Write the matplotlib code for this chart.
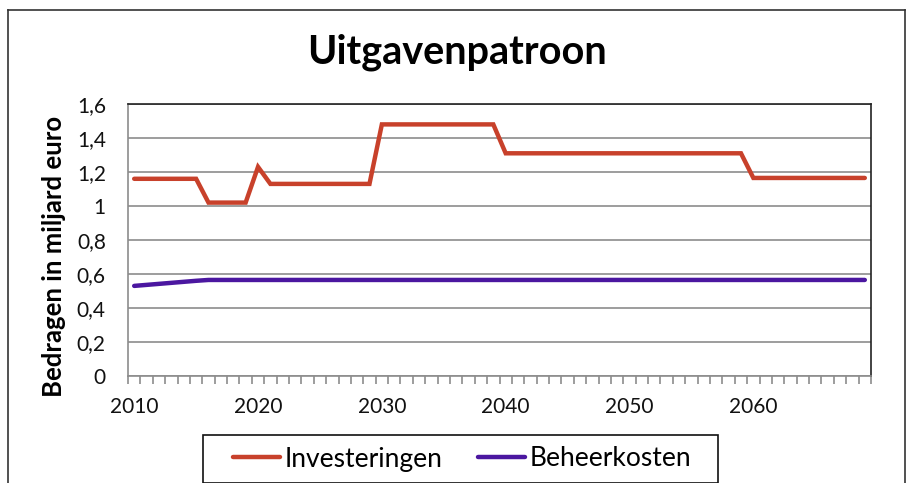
import matplotlib
matplotlib.use("Agg")
import matplotlib.pyplot as plt
from matplotlib.lines import Line2D
from matplotlib.patches import Rectangle
from matplotlib.ticker import FixedLocator, FuncFormatter

plt.rcParams['font.family'] = ['Lato', 'DejaVu Sans']

years = list(range(2010, 2070))
investeringen = ([1.16] * 6 + [1.02] * 4 + [1.23] + [1.13] * 9 + [1.48] * 10
                 + [1.31] * 20 + [1.165] * 10)
beheerkosten = [0.53, 0.536, 0.542, 0.548, 0.554, 0.56] + [0.565] * 54
yticks = [0, 0.2, 0.4, 0.6, 0.8, 1.0, 1.2, 1.4, 1.6]
xlabel_years = [2010, 2020, 2030, 2040, 2050, 2060]

W, H = 909, 483
fig = plt.figure(figsize=(W / 100, H / 100), dpi=100)
ax = fig.add_axes([128 / W, 1 - 376 / H, (871 - 128) / W, (376 - 104) / H])

x = list(range(len(years)))
ax.plot(x, investeringen, color='#C8412B', lw=3.2, solid_capstyle='round',
        solid_joinstyle='miter', label='Investeringen')
ax.plot(x, beheerkosten, color='#4B17A0', lw=3.2, solid_capstyle='round',
        label='Beheerkosten')

ax.set_xlim(-0.5, len(years) - 0.5)
ax.set_ylim(0, 1.6)
ax.set_yticks(yticks)
ax.yaxis.set_major_formatter(FuncFormatter(lambda v, p: ('%g' % round(v, 1)).replace('.', ',')))
ax.yaxis.grid(True, color='#8c8c8c', lw=1.2)
ax.set_axisbelow(True)
ax.tick_params(axis='y', length=0, labelsize=15, pad=16, colors='#111111')

ax.set_xticks([years.index(y) for y in xlabel_years])
ax.set_xticklabels([str(y) for y in xlabel_years])
ax.xaxis.set_minor_locator(FixedLocator([i - 0.5 for i in range(len(years) + 1)]))
ax.tick_params(axis='x', which='major', length=0, labelsize=15, pad=15, colors='#111111')
ax.tick_params(axis='x', which='minor', length=6, width=1.2, color='#8c8c8c', direction='out')

for s in ['left', 'bottom']:
    ax.spines[s].set_color('#8c8c8c')
    ax.spines[s].set_linewidth(1.2)
for s in ['top', 'right']:
    ax.spines[s].set_color('#222222')
    ax.spines[s].set_linewidth(1.2)

ax.set_ylabel('Bedragen in miljard euro', fontsize=18.5, fontweight='bold')
ax.yaxis.set_label_coords(54 / W, 1 - 256 / H, transform=fig.transFigure)
ax.yaxis.label.set_verticalalignment('center')
fig.text(457 / W, 1 - 52 / H, 'Uitgavenpatroon', ha='center', va='center',
         fontsize=28.5, fontweight='bold')

leg = ax.legend(loc='center', bbox_to_anchor=(462 / W, 1 - 459 / H),
                bbox_transform=fig.transFigure, ncol=2, fontsize=19,
                frameon=False, handlelength=1.8, handletextpad=0.15,
                columnspacing=1.35, borderpad=0.2)

fig.add_artist(Rectangle((203 / W, 0), (718 - 203) / W, 1 - 435 / H,
                         transform=fig.transFigure, fill=False,
                         edgecolor='#111111', lw=1.2))

# outer chart border
for xs, ys in [([8 / W, 8 / W], [0, 1 - 10 / H]),
               ([8 / W, 905 / W], [1 - 10 / H, 1 - 10 / H]),
               ([905 / W, 905 / W], [1 - 10 / H, 0])]:
    fig.add_artist(Line2D(xs, ys, color='#333333', lw=1.2, transform=fig.transFigure))

fig.savefig('out.png', dpi=100)
